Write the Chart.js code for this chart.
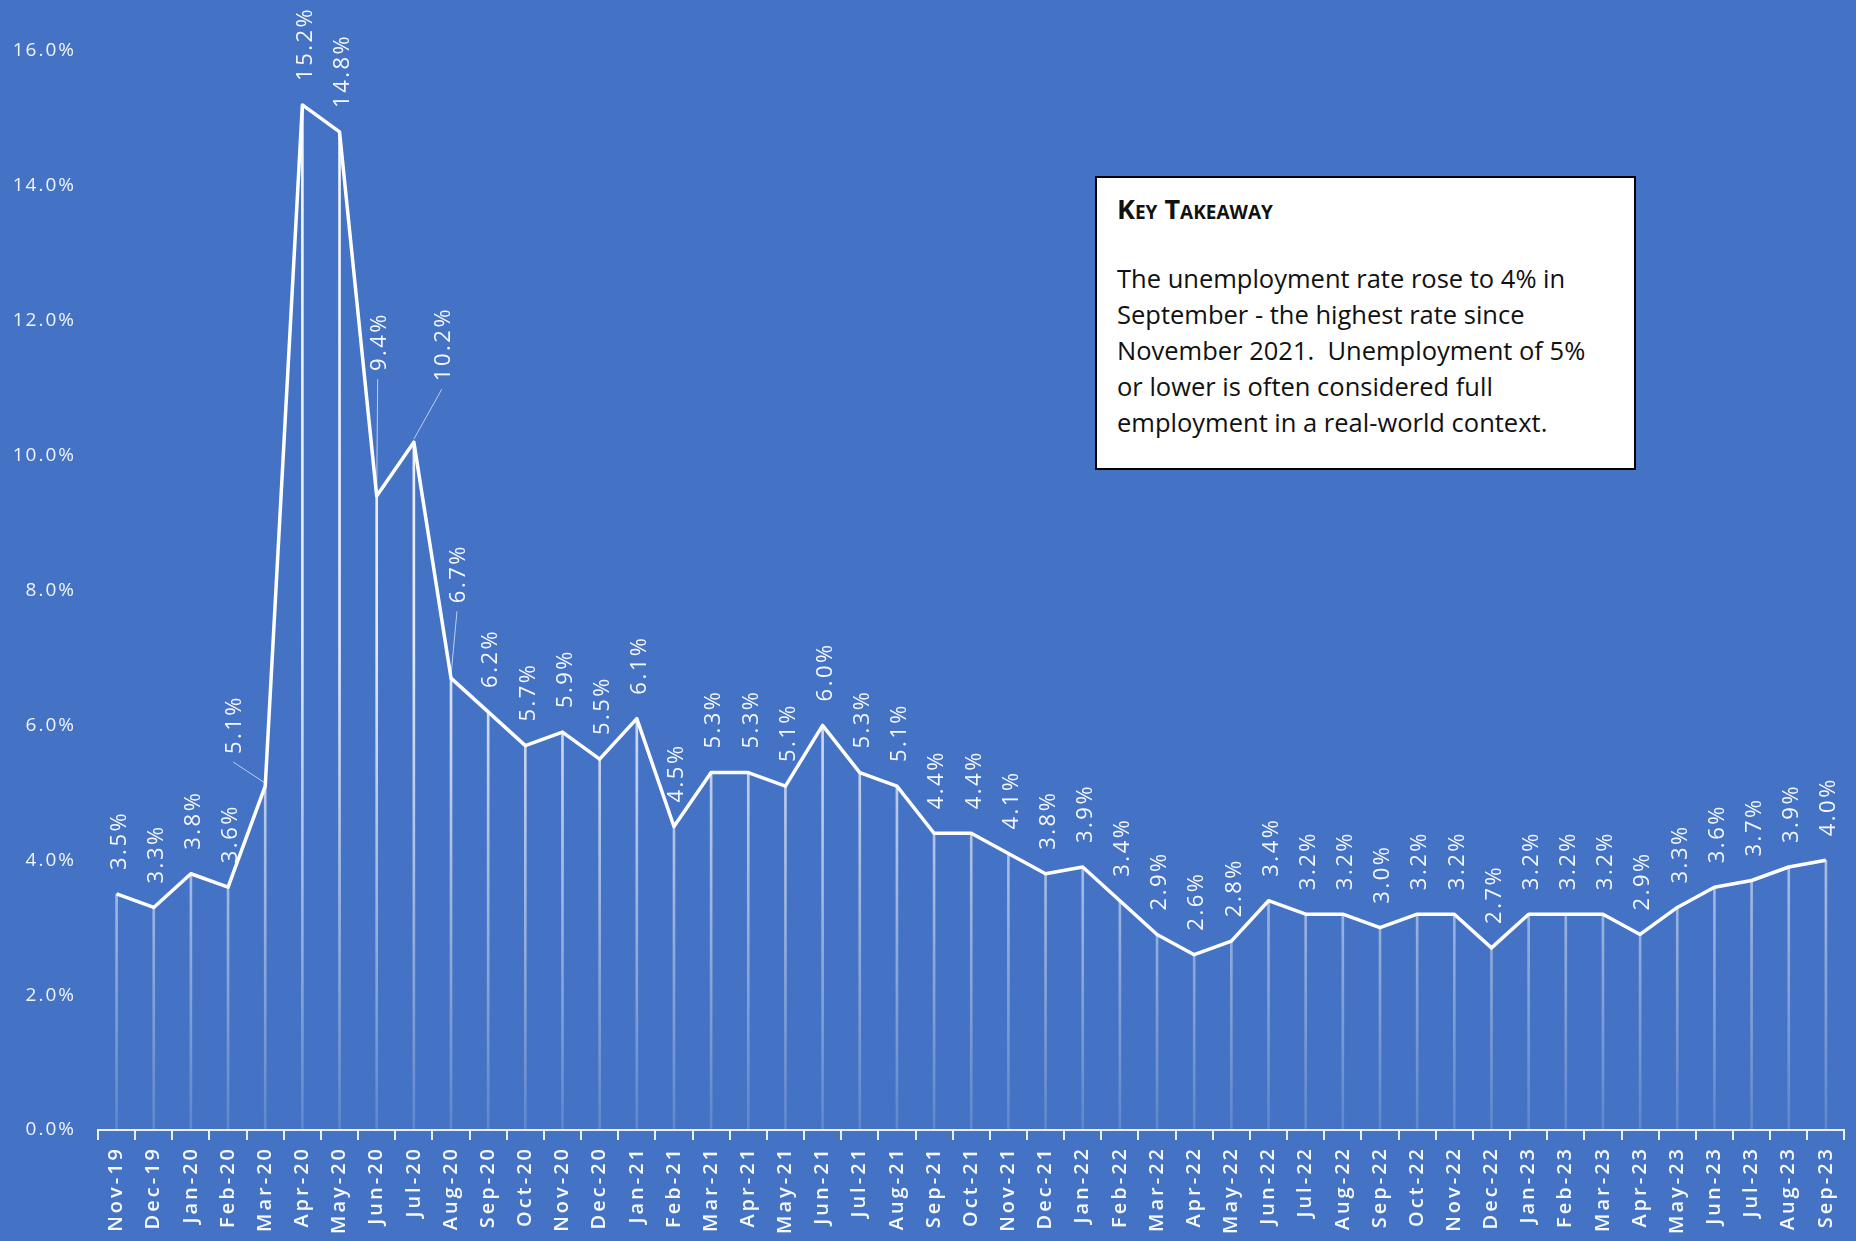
<!DOCTYPE html>
<html>
<head>
<meta charset="utf-8">
<script src="https://cdn.jsdelivr.net/npm/chart.js@4.4.1/dist/chart.umd.min.js"></script>
<style>
  html, body { margin: 0; padding: 0; background: #4472C4; }
  #wrap { position: relative; width: 1856px; height: 1241px; overflow: hidden; }
  #note {
    position: absolute; left: 1095px; top: 176px; width: 541px; height: 294px;
    box-sizing: border-box; background: #fff; border: 2px solid #000;
    padding: 16px 0 0 20px; font-family: "Open Sans", sans-serif; color: #111;
  }
  #note .title { font-weight: 700; font-variant: small-caps; font-size: 27px; line-height: 30px; }
  #note .body { margin-top: 36px; font-size: 25.5px; line-height: 36px; }
</style>
</head>
<body>
<div id="wrap">
  <canvas id="lineChart"></canvas>
  <div id="note">
    <div class="title">Key Takeaway</div>
    <div class="body">The unemployment rate rose to 4% in<br>September - the highest rate since<br>November 2021.&nbsp; Unemployment of 5%<br>or lower is often considered full<br>employment in a real-world context.</div>
  </div>
</div>
<script>
const months = [
  "Nov-19", "Dec-19",
  "Jan-20", "Feb-20", "Mar-20", "Apr-20", "May-20", "Jun-20", "Jul-20", "Aug-20", "Sep-20", "Oct-20", "Nov-20", "Dec-20",
  "Jan-21", "Feb-21", "Mar-21", "Apr-21", "May-21", "Jun-21", "Jul-21", "Aug-21", "Sep-21", "Oct-21", "Nov-21", "Dec-21",
  "Jan-22", "Feb-22", "Mar-22", "Apr-22", "May-22", "Jun-22", "Jul-22", "Aug-22", "Sep-22", "Oct-22", "Nov-22", "Dec-22",
  "Jan-23", "Feb-23", "Mar-23", "Apr-23", "May-23", "Jun-23", "Jul-23", "Aug-23", "Sep-23"
];

const rates = [
  3.5, 3.3,
  3.8, 3.6, 5.1, 15.2, 14.8, 9.4, 10.2, 6.7, 6.2, 5.7, 5.9, 5.5,
  6.1, 4.5, 5.3, 5.3, 5.1, 6.0, 5.3, 5.1, 4.4, 4.4, 4.1, 3.8,
  3.9, 3.4, 2.9, 2.6, 2.8, 3.4, 3.2, 3.2, 3.0, 3.2, 3.2, 2.7,
  3.2, 3.2, 3.2, 2.9, 3.3, 3.6, 3.7, 3.9, 4.0
];

const yTickValues = [0, 2, 4, 6, 8, 10, 12, 14, 16];

// labels that were dragged away from their point (dx, gap above point), drawn with a leader line
const movedLabels = {
  4: { dx: -30, gap: 32 },
  7: { dx: 3, gap: 125 },
  8: { dx: 30, gap: 61 },
  9: { dx: 8, gap: 75 }
};

const WHITE = "#ffffff";

// x tick labels are letter-spaced wider than the rest
const spacingPlugin = {
  id: "spacing",
  beforeDraw(chart) { chart.ctx.letterSpacing = "3px"; },
  beforeDatasetsDraw(chart) { chart.ctx.letterSpacing = "2px"; }
};

const valueLabels = {
  id: "valueLabels",
  afterDatasetsDraw(chart) {
    const meta = chart.getDatasetMeta(1);
    const ctx = chart.ctx;
    ctx.save();
    ctx.fillStyle = "rgba(255,255,255,0.95)";
    ctx.strokeStyle = "rgba(255,255,255,0.65)";
    ctx.lineWidth = 1;
    ctx.font = "22px 'Open Sans'";
    ctx.letterSpacing = "2.5px";
    ctx.textAlign = "left";
    ctx.textBaseline = "middle";
    meta.data.forEach((pt, i) => {
      const m = movedLabels[i] || { dx: 3, gap: 24 };
      const lx = pt.x + m.dx;
      const ly = pt.y - m.gap;
      if (movedLabels[i]) {
        ctx.beginPath();
        ctx.moveTo(lx - 2, ly + 8);
        ctx.lineTo(pt.x, pt.y - 3);
        ctx.stroke();
      }
      ctx.save();
      ctx.translate(lx, ly);
      ctx.rotate(-Math.PI / 2);
      ctx.fillText(rates[i].toFixed(1) + "%", 0, 0);
      ctx.restore();
    });
    ctx.restore();
  }
};

function dropColor(context) {
  const area = context.chart.chartArea;
  if (!area) return "rgba(255,255,255,0.8)";
  const g = context.chart.ctx.createLinearGradient(0, area.top, 0, area.bottom);
  g.addColorStop(0, "rgba(255,255,255,0.95)");
  g.addColorStop(0.55, "rgba(255,255,255,0.85)");
  g.addColorStop(1, "rgba(255,255,255,0.15)");
  return g;
}

const canvas = document.getElementById("lineChart");
canvas.width = 1856;
canvas.height = 1241;

Chart.defaults.font.family = "'Open Sans', sans-serif";

new Chart(canvas.getContext("2d"), {
  type: "bar",
  data: {
    labels: months,
    datasets: [
      {
        type: "bar",
        label: "drop",
        data: rates,
        backgroundColor: dropColor,
        barThickness: 2,
        order: 2
      },
      {
        type: "line",
        label: "Unemployment rate",
        data: rates,
        borderColor: WHITE,
        borderWidth: 3.5,
        borderJoinStyle: "round",
        pointRadius: 0,
        tension: 0,
        fill: false,
        order: 1
      }
    ]
  },
  options: {
    responsive: false,
    animation: false,
    layout: { padding: { top: 51, right: 9, left: 0, bottom: 0 } },
    plugins: {
      legend: { display: false },
      tooltip: { enabled: false }
    },
    scales: {
      x: {
        offset: true,
        grid: {
          offset: true,
          drawOnChartArea: false,
          drawTicks: true,
          tickLength: 10,
          color: "rgba(255,255,255,0.9)",
          lineWidth: 2
        },
        border: { display: true, color: "rgba(255,255,255,0.9)", width: 2 },
        ticks: {
          autoSkip: false,
          minRotation: 90,
          maxRotation: 90,
          padding: 6,
          color: "rgba(255,255,255,0.95)",
          font: { size: 20, weight: "600" }
        },
        afterFit(scale) { scale.height = 111; }
      },
      y: {
        min: 0,
        max: 16,
        afterBuildTicks(scale) { scale.ticks = yTickValues.map(v => ({ value: v })); },
        grid: { display: false, drawTicks: false },
        border: { display: false },
        ticks: {
          z: 1,
          padding: 22,
          color: "rgba(255,255,255,0.92)",
          font: { size: 19 },
          callback: v => v.toFixed(1) + "%"
        },
        afterFit(scale) { scale.width = 98; }
      }
    }
  },
  plugins: [spacingPlugin, valueLabels]
});
</script>
</body>
</html>
